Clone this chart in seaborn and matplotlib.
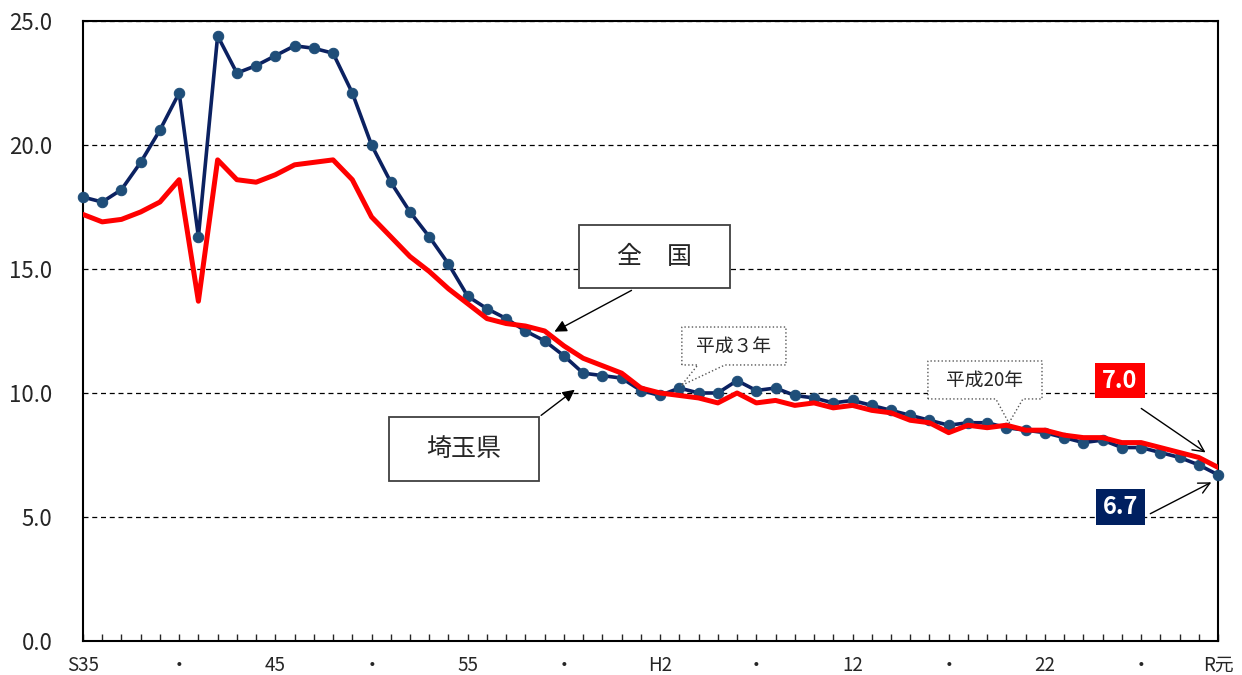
import numpy as np
import pandas as pd
import seaborn as sns
import matplotlib.pyplot as plt
from matplotlib.patches import Rectangle, Polygon

# ----------------------------------------
# Data: birth rate (per 1,000), S35 (1960) - R元 (2019)
# ----------------------------------------

years = list(range(1960, 2020))

saitama = [17.9, 17.7, 18.2, 19.3, 20.6, 22.1, 16.3, 24.4, 22.9, 23.2,
           23.6, 24.0, 23.9, 23.7, 22.1, 20.0, 18.5, 17.3, 16.3, 15.2,
           13.9, 13.4, 13.0, 12.5, 12.1, 11.5, 10.8, 10.7, 10.6, 10.1,
           9.9, 10.2, 10.0, 10.0, 10.5, 10.1, 10.2, 9.9, 9.8, 9.6,
           9.7, 9.5, 9.3, 9.1, 8.9, 8.7, 8.8, 8.8, 8.6, 8.5,
           8.4, 8.2, 8.0, 8.1, 7.8, 7.8, 7.6, 7.4, 7.1, 6.7]

zenkoku = [17.2, 16.9, 17.0, 17.3, 17.7, 18.6, 13.7, 19.4, 18.6, 18.5,
           18.8, 19.2, 19.3, 19.4, 18.6, 17.1, 16.3, 15.5, 14.9, 14.2,
           13.6, 13.0, 12.8, 12.7, 12.5, 11.9, 11.4, 11.1, 10.8, 10.2,
           10.0, 9.9, 9.8, 9.6, 10.0, 9.6, 9.7, 9.5, 9.6, 9.4,
           9.5, 9.3, 9.2, 8.9, 8.8, 8.4, 8.7, 8.6, 8.7, 8.5,
           8.5, 8.3, 8.2, 8.2, 8.0, 8.0, 7.8, 7.6, 7.4, 7.0]

tick_labels = {1960: "S35", 1965: "・", 1970: "45", 1975: "・", 1980: "55",
               1985: "・", 1990: "H2", 1995: "・", 2000: "12", 2005: "・",
               2010: "22", 2015: "・", 2019: "R元"}

y_ticks = [0, 5, 10, 15, 20, 25]

df = pd.DataFrame({"year": years, "埼玉県": saitama, "全国": zenkoku})

# ----------------------------------------
# Plot
# ----------------------------------------

sns.set_style("white")
plt.rcParams['font.family'] = ['Noto Sans CJK JP', 'DejaVu Sans']

fig = plt.figure(figsize=(12.42, 6.75), dpi=100)
ax = fig.add_axes([0.0668, 0.0504, 0.9139, 0.9185])

sns.lineplot(data=df, x="year", y="埼玉県", ax=ax, color="#0B2161",
             linewidth=2.6, marker="o", markersize=7.5,
             markerfacecolor="#1F4E79", markeredgecolor="#1F4E79",
             clip_on=False, zorder=3)
sns.lineplot(data=df, x="year", y="全国", ax=ax, color="#FF0000",
             linewidth=3.6, zorder=4)

ax.set_xlim(years[0], years[-1])
ax.set_ylim(0, 25)
ax.set_xlabel("")
ax.set_ylabel("")

ax.set_yticks(y_ticks)
ax.set_yticklabels([f"{v:.1f}" for v in y_ticks])
ax.set_xticks(years)
ax.set_xticklabels([tick_labels.get(y, "") for y in years])
ax.tick_params(axis='y', length=0, pad=22, labelsize=16)
ax.tick_params(axis='x', direction='in', length=5, width=1, pad=10,
               labelsize=13.5, bottom=True)

ax.grid(axis='y', color='black', linestyle=(0, (4, 3)), linewidth=0.9)
ax.grid(axis='x', visible=False)
for side in ['left', 'right', 'top', 'bottom']:
    ax.spines[side].set_visible(True)
    ax.spines[side].set_color('black')
    ax.spines[side].set_linewidth(1.5)

# ----------------------------------------
# Labels and callouts
# ----------------------------------------

# 全国
ax.add_patch(Rectangle((1985.78, 14.23), 7.85, 2.54, facecolor='white',
                       edgecolor='#404040', linewidth=1.3, zorder=5))
ax.text(1989.70, 15.50, "全　国", ha='center', va='center', fontsize=18, zorder=6)
ax.annotate("", xy=(1984.38, 12.42), xytext=(1988.64, 14.19),
            arrowprops=dict(arrowstyle='-|>', color='black', lw=1,
                            mutation_scale=18), zorder=6)

# 埼玉県
ax.add_patch(Rectangle((1975.90, 6.45), 7.80, 2.58, facecolor='white',
                       edgecolor='#404040', linewidth=1.3, zorder=5))
ax.text(1979.80, 7.74, "埼玉県", ha='center', va='center', fontsize=18, zorder=6)
ax.annotate("", xy=(1985.68, 10.20), xytext=(1983.70, 9.03),
            arrowprops=dict(arrowstyle='-|>', color='black', lw=1,
                            mutation_scale=18), zorder=6)

# 平成３年 callout
x0, x1, y0, y1 = 1991.13, 1996.54, 11.13, 12.66
ax.add_patch(Polygon([(x0, y0), (x0, y1), (x1, y1), (x1, y0), (1993.37, y0),
                      (1991.1, 10.3), (1991.96, y0)], closed=True,
                     facecolor='white', edgecolor='#555555', linewidth=1,
                     linestyle=':', zorder=5))
ax.text(1993.84, 11.90, "平成３年", ha='center', va='center', fontsize=13.5, zorder=6)

# 平成20年 callout
x0, x1, y0, y1 = 2003.92, 2009.85, 9.76, 11.29
ax.add_patch(Polygon([(x0, y0), (x0, y1), (x1, y1), (x1, y0), (2008.86, y0),
                      (2008.13, 8.79), (2007.45, y0)], closed=True,
                     facecolor='white', edgecolor='#555555', linewidth=1,
                     linestyle=':', zorder=5))
ax.text(2006.88, 10.52, "平成20年", ha='center', va='center', fontsize=13.5, zorder=6)

# latest values
ax.add_patch(Rectangle((2012.60, 9.80), 2.60, 1.41, facecolor='#FF0000',
                       edgecolor='none', zorder=5))
ax.text(2013.90, 10.50, f"{zenkoku[-1]:.1f}", ha='center', va='center',
        fontsize=17, fontweight='bold', color='white', zorder=6)
ax.annotate("", xy=(2018.47, 7.54), xytext=(2014.89, 9.44),
            arrowprops=dict(arrowstyle='->', color='black', lw=1,
                            mutation_scale=20), zorder=6)

ax.add_patch(Rectangle((2012.65, 4.68), 2.55, 1.45, facecolor='#002060',
                       edgecolor='none', zorder=5))
ax.text(2013.92, 5.40, f"{saitama[-1]:.1f}", ha='center', va='center',
        fontsize=17, fontweight='bold', color='white', zorder=6)
ax.annotate("", xy=(2018.78, 6.45), xytext=(2015.35, 5.08),
            arrowprops=dict(arrowstyle='->', color='black', lw=1,
                            mutation_scale=20), zorder=6)

plt.savefig("out.png", dpi=100)
